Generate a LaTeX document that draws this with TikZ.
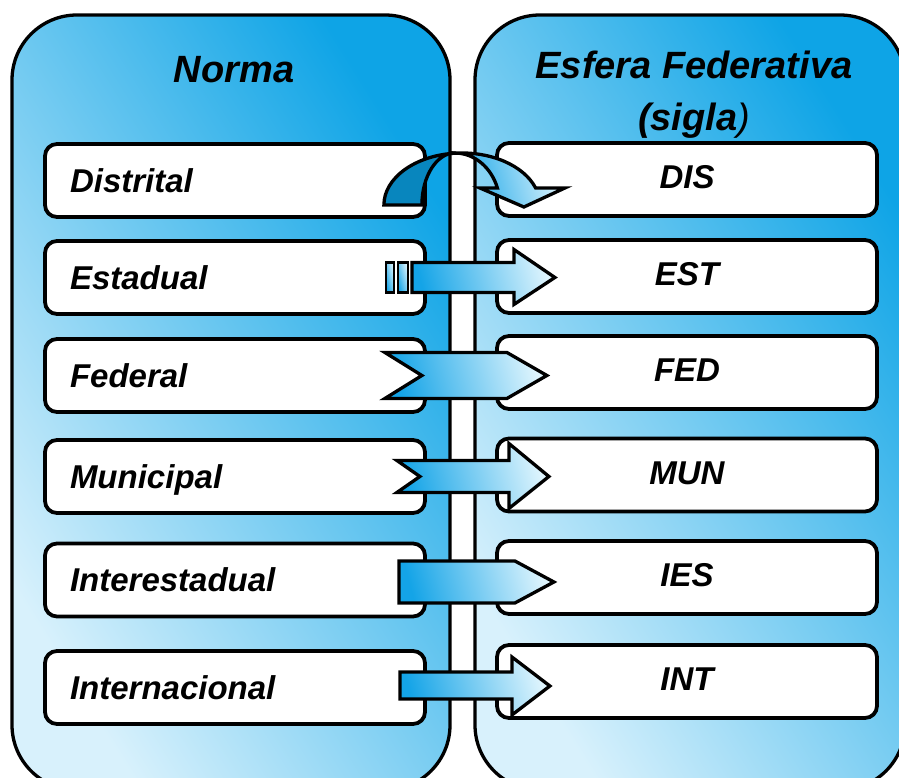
\documentclass[tikz,border=0pt]{standalone}
\usepackage{fontspec}
\setmainfont{Liberation Sans}
\definecolor{paneldeep}{RGB}{14,164,230}
\definecolor{panelpale}{RGB}{216,241,252}
\definecolor{arrowdeep}{RGB}{20,164,231}
\definecolor{arrowpale}{RGB}{222,244,253}
\definecolor{backblue}{RGB}{8,134,190}
\tikzset{
  panel/.style={draw=black, line width=3.3pt, rounded corners=65pt,
    top color=paneldeep, bottom color=panelpale, shading angle=-58},
  normabox/.style={draw=black, fill=white, line width=3.8pt, rounded corners=12pt,
    minimum width=380pt, minimum height=73pt, text width=330pt, inner xsep=25pt,
    align=left, text height=24pt, text depth=0pt,
    font=\fontsize{33}{38}\selectfont\bfseries\itshape},
  siglabox/.style={normabox, align=center, text depth=5pt},
  blockarrow/.style={draw=black, line width=3.3pt,
    top color=arrowpale, bottom color=arrowdeep, shading angle=-75},
  stripe/.style={blockarrow, line width=2.6pt},
  backarrow/.style={draw=black, line width=3.3pt, fill=backblue},
  title/.style={align=center, font=\fontsize{38}{52}\selectfont\bfseries\itshape}
}
\begin{document}
\begin{tikzpicture}[x=1pt, y=1pt]
	\useasboundingbox (0,0) rectangle (899,778);
	\clip (0,0) rectangle (899,778);

	\draw[panel] (12,-12) rectangle (450,763);
	\draw[panel] (475,-12) rectangle (905,763);
	\node[title] (tnorma) at (234,708) {Norma};
	\node[title] (tesfera) at (694,683) {Esfera Federativa\\(sigla{\mdseries)}};

	\node[normabox] (n1) at (235,597.5) {Distrital};
	\node[normabox] (n2) at (235,500.5) {Estadual};
	\node[normabox] (n3) at (235,402.5) {Federal};
	\node[normabox] (n4) at (235,301.5) {Municipal};
	\node[normabox] (n5) at (235,198) {Interestadual};
	\node[normabox] (n6) at (235,90.5) {Internacional};

	\node[siglabox] (s1) at (687,598.5) {DIS};
	\node[siglabox] (s2) at (687,501.5) {EST};
	\node[siglabox] (s3) at (687,405.5) {FED};
	\node[siglabox] (s4) at (687,303) {MUN};
	\node[siglabox] (s5) at (687,200.5) {IES};
	\node[siglabox] (s6) at (687,96.5) {INT};

	\begin{scope}[shift={(n1.east)}]
		\draw[backarrow] (-43,-24.5) arc[start angle=180, end angle=95, x radius=78, y radius=52]
			-- (28,27.5) arc[start angle=90, end angle=180, x radius=33, y radius=52] -- cycle;
		\draw[blockarrow] (28.2,27.3) arc[start angle=95, end angle=19.1, x radius=78, y radius=52]
			-- (138,-7.5) -- (97,-26.5) -- (53,-7.5) -- (70.5,-7.5)
			arc[start angle=19.1, end angle=90, x radius=45, y radius=52] -- cycle;
	\end{scope}
	\begin{scope}[shift={(n2.east)}]
		\draw[stripe] (-41,-15) rectangle (-33,15);
		\draw[stripe] (-29,-15) rectangle (-19,15);
		\draw[blockarrow] (-15,15) -- (87,15) -- (87,28) -- (128,0) -- (87,-27) -- (87,-15) -- (-15,-15) -- cycle;
	\end{scope}
	\begin{scope}[shift={(n3.east)}]
		\draw[blockarrow] (-42,23) -- (80,23) -- (120,0) -- (80,-23) -- (-42,-23) -- (-5,0) -- cycle;
	\end{scope}
	\begin{scope}[shift={(n4.east)}]
		\draw[blockarrow] (-30,16) -- (82,16) -- (82,33) -- (122,0) -- (82,-32) -- (82,-16) -- (-30,-16) -- (-7,0) -- cycle;
	\end{scope}
	\begin{scope}[shift={(n5.east)}]
		\draw[blockarrow] (-28,19) -- (88,19) -- (127,-2) -- (88,-23) -- (-28,-23) -- cycle;
	\end{scope}
	\begin{scope}[shift={(n6.east)}]
		\draw[blockarrow] (-27,15.5) -- (85,15.5) -- (85,30.5) -- (123,1.5) -- (85,-27.5) -- (85,-11.5) -- (-27,-11.5) -- cycle;
	\end{scope}
\end{tikzpicture}
\end{document}
